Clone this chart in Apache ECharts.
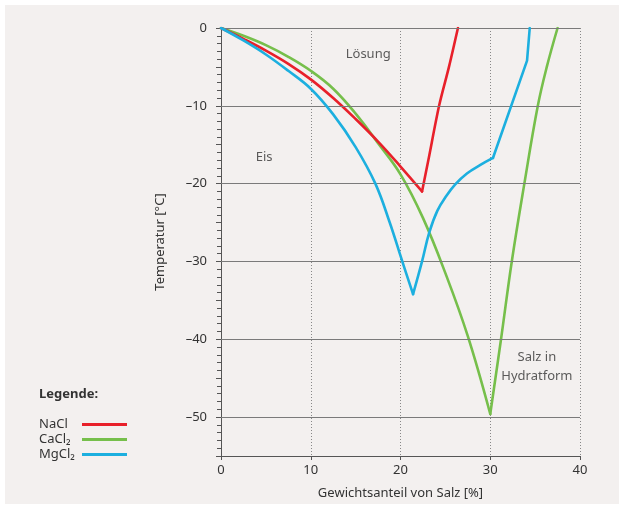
<!DOCTYPE html>
<html>
<head>
<meta charset="utf-8">
<script src="https://cdn.jsdelivr.net/npm/echarts@6/dist/echarts.min.js"></script>
<style>
  html, body { margin: 0; padding: 0; background: #fff; }
  #main { width: 624px; height: 506px; }
</style>
</head>
<body>
<div id="main"></div>
<script>
// salt weight share [%] vs. temperature [°C]
var naclIce = [[0, 0], [2.5, -1.4], [5, -2.9], [7.5, -4.6], [10, -6.6], [12.5, -9.0], [15, -11.7], [17.5, -14.6], [20, -17.8], [22.4, -21.0]];
var naclSalt = [[22.4, -21.0], [23.1, -17], [24.3, -10], [25.4, -5], [26.4, 0]];

var cacl2Ice = [[0, 0], [2.5, -1.0], [5, -2.2], [7.5, -3.7], [10, -5.5], [12.5, -7.8], [15, -11.0], [17.5, -14.8], [20, -18.8], [22.5, -24.4], [25, -31.5], [27.5, -39.6], [30, -49.6]];
var cacl2Salt = [[30, -49.6], [31.2, -40], [32.4, -30], [33.8, -20], [35.3, -10], [36.3, -5], [37.5, 0]];

var mgcl2Ice = [[0, 0], [2.5, -1.6], [5, -3.4], [7.5, -5.5], [10, -7.8], [12.5, -11.1], [15, -15.3], [17.2, -20], [18.8, -25], [20.2, -30], [21.4, -34.2]];
var mgcl2Salt = [[21.4, -34.2], [22.4, -30], [23.2, -26.3], [24.1, -23.5], [25.1, -21.6], [26.1, -20.1], [27.4, -18.7], [28.9, -17.6], [30.3, -16.7]];
var mgcl2Hydrate = [[30.3, -16.7], [34.1, -4.2], [34.4, 0]];

var saltNames = ['NaCl', 'CaCl\u2082', 'MgCl\u2082'];
var saltColors = ['#e8202a', '#76bf4b', '#1cafdf'];

var gridValues = [0, -10, -20, -30, -40, -50];

var noteNames = ['L\u00f6sung', 'Eis', 'Salz in\nHydratform'];
var notePos = [[16.4, -3.4], [4.8, -16.6], [35.2, -43.6]];

var fontFamily = '"Noto Sans", "DejaVu Sans", sans-serif';
var fontSize = 13;

var myChart = echarts.init(document.getElementById('main'), null, { renderer: 'canvas' });

function curve(name, color, data, smooth, z) {
  return {
    name: name,
    type: 'line',
    data: data,
    smooth: smooth,
    symbol: 'none',
    silent: true,
    z: z,
    lineStyle: { color: color, width: 2.6, cap: 'round', join: 'round' },
    itemStyle: { color: color }
  };
}

var series = [
  // grid lines at every 10 degrees
  {
    name: 'grid',
    type: 'line',
    data: [],
    silent: true,
    markLine: {
      silent: true,
      symbol: 'none',
      label: { show: false },
      lineStyle: { color: '#7a7a7a', width: 1, type: 'solid' },
      data: gridValues.map(function (v) { return { yAxis: v }; })
    }
  },
  curve(saltNames[1], saltColors[1], cacl2Ice, 0.4, 3),
  curve(saltNames[1], saltColors[1], cacl2Salt, 0.4, 3),
  curve(saltNames[0], saltColors[0], naclIce, 0.4, 4),
  curve(saltNames[0], saltColors[0], naclSalt, 0.3, 4),
  curve(saltNames[2], saltColors[2], mgcl2Ice, 0.4, 5),
  curve(saltNames[2], saltColors[2], mgcl2Salt, 0.4, 5),
  curve(saltNames[2], saltColors[2], mgcl2Hydrate, false, 5),
  {
    name: 'notes',
    type: 'scatter',
    symbolSize: 0,
    silent: true,
    data: notePos.map(function (p, i) { return { value: p, name: noteNames[i] }; }),
    label: {
      show: true,
      position: 'inside',
      formatter: '{b}',
      color: '#333',
      fontSize: fontSize,
      fontFamily: fontFamily,
      align: 'center',
      lineHeight: 19
    }
  }
];

var option = {
  backgroundColor: '#fff',
  animation: false,
  textStyle: { fontFamily: fontFamily },
  graphic: [
    {
      type: 'rect',
      z: -10,
      shape: { x: 5, y: 5, width: 614, height: 499 },
      style: { fill: '#f3f0ef' },
      silent: true
    }
  ],
  title: {
    text: 'Legende:',
    left: 34,
    top: 383,
    textStyle: { fontSize: fontSize, fontWeight: 'bold', color: '#333', fontFamily: fontFamily }
  },
  legend: {
    data: saltNames,
    orient: 'vertical',
    left: 34,
    top: 413,
    align: 'right',
    icon: 'rect',
    itemWidth: 45,
    itemHeight: 3,
    itemGap: 2,
    selectedMode: false,
    formatter: function (name) { return '{a|' + name + '}'; },
    textStyle: {
      fontSize: fontSize,
      color: '#333',
      fontFamily: fontFamily,
      rich: { a: { width: 38, align: 'left', fontSize: fontSize, lineHeight: 15, color: '#333', fontFamily: fontFamily } }
    }
  },
  grid: { left: 221, right: 44, top: 28, bottom: 50 },
  xAxis: {
    type: 'value',
    min: 0,
    max: 40,
    interval: 10,
    name: 'Gewichtsanteil von Salz [%]',
    nameLocation: 'middle',
    nameGap: 31,
    nameTextStyle: { fontSize: fontSize, color: '#333' },
    axisLine: { show: true, onZero: false, lineStyle: { color: '#555', width: 1 } },
    axisTick: { show: true, length: 4, lineStyle: { color: '#555' } },
    axisLabel: { fontSize: fontSize, color: '#333', margin: 8 },
    splitLine: { show: true, lineStyle: { color: '#888', type: [1, 2], width: 1 } }
  },
  yAxis: {
    type: 'value',
    min: -55,
    max: 0,
    interval: 5,
    name: 'Temperatur [\u00b0C]',
    nameLocation: 'middle',
    nameGap: 54,
    nameTextStyle: { fontSize: fontSize, color: '#333' },
    axisLine: { show: true, onZero: false, lineStyle: { color: '#555', width: 1 } },
    axisTick: { show: true, length: 5, lineStyle: { color: '#555' } },
    minorTick: { show: true, splitNumber: 5, length: 4, lineStyle: { color: '#555' } },
    axisLabel: {
      fontSize: fontSize,
      color: '#333',
      margin: 14,
      formatter: function (v) {
        if (v % 10 !== 0) return '';
        return v === 0 ? '0' : '\u2013' + Math.abs(v);
      }
    },
    splitLine: { show: false }
  },
  series: series
};

myChart.setOption(option);
</script>
</body>
</html>
